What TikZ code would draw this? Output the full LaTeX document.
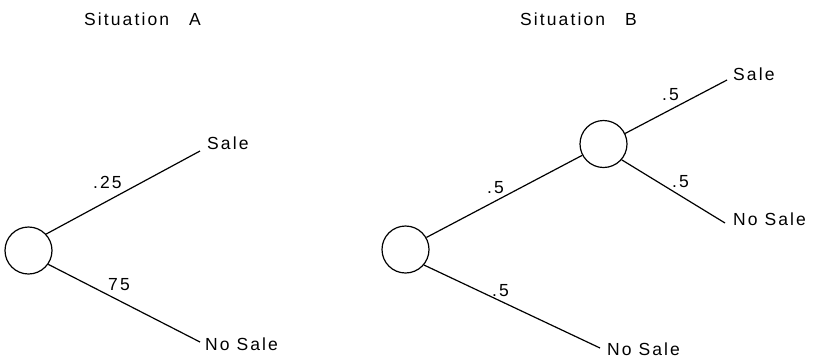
\documentclass[tikz,border=0pt]{standalone}
\usepackage{fontspec}
\setmainfont{Liberation Sans}[LetterSpace=12]
\begin{document}
\begin{tikzpicture}[x=1pt,y=-1pt,
  chance/.style={circle,draw,line width=1.2pt,minimum size=47pt,inner sep=0pt},
  branch/.style={line width=1.2pt},
  lbl/.style={anchor=base west,inner sep=0pt,font=\fontsize{17.5}{20}\selectfont}]
\useasboundingbox (0,0) rectangle (816,360);
% Situation A
\node[lbl] (tA) at (84,25.5) {Situation\hspace{20pt}A};
\node[chance] (cA) at (28.5,250.5) {};
\coordinate (eA1) at (200,151);
\coordinate (eA2) at (200,342);
\draw[branch] (cA.43) -- (eA1);
\draw[branch] (cA.-35) -- (eA2);
\node[lbl] (sA) at (207,149.3) {Sale};
\node[lbl] (nA) at (205,350) {No Sale};
\node[lbl] (pA1) at (93,188.5) {.25};
\node[lbl] (pA2) at (108,290) {75};
% Situation B
\node[lbl] (tB) at (520,25.5) {Situation\hspace{20pt}B};
\node[chance] (cB1) at (405.5,249.5) {};
\node[chance] (cB2) at (603.5,144) {};
\coordinate (eB1) at (727,80);
\coordinate (eB2) at (725,223);
\coordinate (eB3) at (600,348);
\draw[branch] (cB1.30) -- (cB2.208);
\draw[branch] (cB2.26) -- (eB1);
\draw[branch] (cB2.-41) -- (eB2);
\draw[branch] (cB1.-40) -- (eB3);
\node[lbl] (sB) at (733,80) {Sale};
\node[lbl] (nB1) at (733,225) {No Sale};
\node[lbl] (nB2) at (607,355) {No Sale};
\node[lbl] (pB1) at (662,100) {.5};
\node[lbl] (pB2) at (672,187) {.5};
\node[lbl] (pB3) at (487,193) {.5};
\node[lbl] (pB4) at (492,296) {.5};
\end{tikzpicture}
\end{document}
